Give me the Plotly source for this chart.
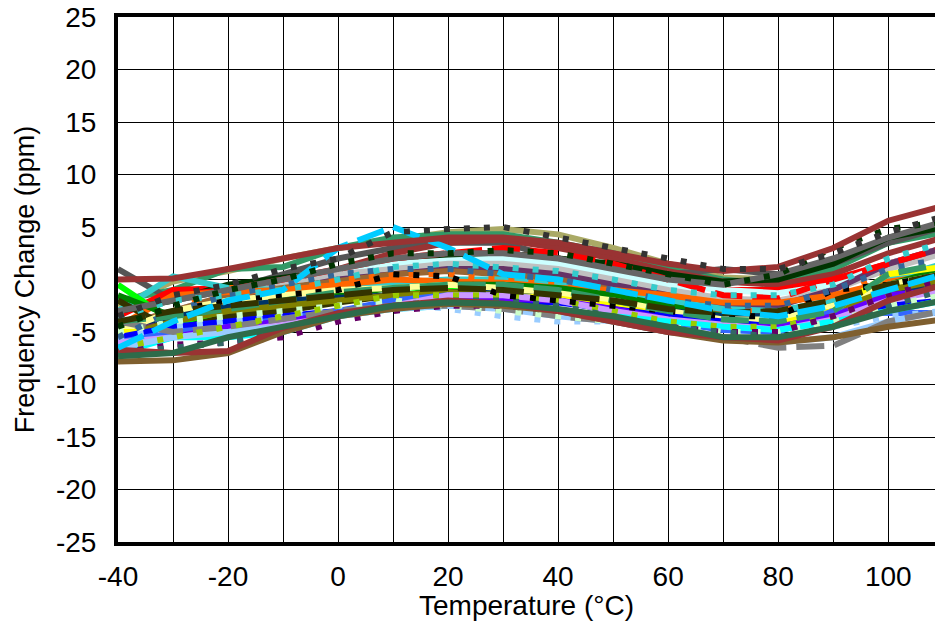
import plotly.graph_objects as go

temps = [-40, -30, -20, -10, 0, 10, 20, 30, 40, 50, 60, 70, 80, 90, 100, 110]

s01 = [0.0, 0.1, 1.0, 2.0, 3.0, 3.5, 4.0, 4.0, 3.5, 2.5, 1.5, 0.8, 1.2, 3.0, 5.6, 7.0]
s02 = [-2.5, -0.2, 0.8, 2.0, 3.0, 3.8, 4.5, 4.8, 4.3, 3.0, 1.5, 0.2, 0.0, 1.5, 3.5, 5.0]
s03 = [-3.5, -1.5, -0.5, 1.0, 2.0, 4.5, 4.8, 5.0, 4.0, 3.0, 2.0, 1.0, 1.0, 2.5, 4.5, 6.0]
s04 = [-2.0, -1.0, 1.0, 1.2, 3.0, 4.0, 4.3, 4.3, 3.5, 2.5, 1.0, 0.0, -0.5, 1.0, 3.5, 4.5]
s05 = [-6.5, -4.0, -2.0, -1.0, 3.0, 5.0, 3.0, 0.5, 0.0, -1.0, -2.0, -3.0, -3.5, -2.5, -1.0, 0.5]
s06 = [-4.5, -2.5, -1.0, 0.0, 1.5, 2.5, 2.5, 2.8, 2.5, 1.5, 0.5, -0.5, 0.5, 3.0, 4.8, 5.5]
s07 = [-5.5, -4.5, -3.0, -1.0, 1.0, 2.5, 3.5, 3.8, 3.0, 2.0, 0.8, -0.2, -0.5, 0.5, 2.5, 4.0]
s08 = [1.0, -2.0, -1.0, 0.5, 2.0, 3.0, 3.5, 3.5, 2.0, 1.0, 0.5, 1.0, 0.5, 1.5, 3.5, 5.0]
s09 = [-3.5, -1.0, -0.8, -0.3, 0.5, 1.5, 2.5, 2.5, 2.0, 1.0, 0.0, -1.0, -1.0, 0.0, 1.5, 3.0]
s10 = [-3.0, -2.0, -0.5, 0.2, 0.8, 1.5, 2.0, 2.5, 2.0, 1.5, 0.5, -0.2, 0.0, 1.5, 4.0, 5.0]
s11 = [-6.5, -4.0, -2.0, -0.5, 0.5, 1.5, 1.8, 2.0, 1.5, 0.5, -0.5, -1.0, -1.3, -0.5, 1.5, 3.0]
s12 = [-4.5, -3.0, -1.5, -0.5, 0.5, 1.0, 1.5, 1.5, 1.0, 0.0, -1.0, -1.8, -2.0, -1.0, 1.0, 2.5]
s13 = [-5.0, -3.5, -2.0, -1.0, 0.0, 0.5, 1.0, 1.0, 0.5, -0.5, -1.5, -2.5, -2.5, -1.0, 1.5, 3.0]
s14 = [-4.5, -3.0, -1.5, -0.8, -0.2, 0.5, 0.8, 0.5, 0.0, -1.0, -2.0, -3.0, -3.2, -2.5, -1.0, 0.5]
s15 = [-3.0, -1.5, -1.0, 0.0, 1.0, 2.0, 2.5, 3.0, 2.5, 1.5, 0.0, -1.5, -1.8, 0.0, 1.5, 3.0]
s16 = [-3.0, 0.3, -0.8, -1.0, -0.8, -0.3, 0.0, 0.0, -0.5, -1.2, -2.0, -2.8, -3.0, -2.0, 0.0, 1.5]
s17 = [-4.5, -1.5, -1.2, -1.0, -0.5, 0.0, -0.2, -0.3, -0.8, -1.0, -1.5, -2.2, -2.2, -1.5, -0.2, 0.5]
s18 = [-5.0, -3.0, -0.8, -0.8, 0.0, 0.5, 0.5, 0.0, -0.5, -1.5, -2.5, -3.0, -3.0, -1.5, 0.5, 1.5]
s19 = [-0.5, -4.0, -3.5, -2.5, -2.0, -1.5, -1.0, -0.8, -1.5, -2.5, -3.5, -4.0, -4.2, -3.0, -1.0, 0.5]
s20 = [-1.5, -3.5, -3.0, -2.2, -1.5, -0.8, -0.5, -0.5, -0.8, -1.5, -2.5, -3.5, -3.8, -2.5, -0.5, 1.0]
s21 = [-2.0, -4.8, -3.5, -3.0, -2.2, -1.5, -1.2, -1.3, -1.8, -2.5, -3.5, -4.2, -4.5, -3.5, -1.5, -0.5]
s22 = [-4.5, -3.5, -2.5, -2.0, -1.8, -1.5, -1.2, -1.3, -1.8, -2.3, -3.0, -3.5, -3.5, -2.8, -1.5, -0.5]
s23 = [-5.0, -3.0, -2.0, -1.5, -1.0, -0.8, -0.5, -0.8, -1.3, -2.0, -3.0, -3.8, -3.8, -2.5, -0.5, 0.5]
s24 = [-5.5, -4.0, -3.0, -2.5, -2.0, -1.5, -1.2, -1.5, -2.0, -3.0, -3.8, -4.5, -4.5, -3.0, -1.0, 0.0]
s25 = [-5.0, -5.0, -5.3, -4.5, -3.5, -2.5, -1.8, -1.5, -1.8, -2.5, -3.5, -4.5, -4.2, -3.0, 0.5, 1.2]
s26 = [-5.5, -4.5, -4.0, -3.5, -3.0, -2.5, -2.0, -2.0, -2.2, -2.8, -3.5, -4.0, -4.5, -3.8, -2.5, -2.0]
s27 = [-6.0, -5.0, -4.5, -3.8, -3.0, -2.0, -1.5, -1.5, -2.0, -3.0, -4.0, -4.8, -5.0, -3.0, -3.2, -3.2]
s28 = [-6.5, -5.5, -4.5, -4.0, -3.2, -2.5, -2.0, -1.8, -2.0, -2.8, -3.8, -4.5, -4.5, -3.5, -1.5, -1.0]
s29 = [-6.0, -5.5, -5.0, -4.3, -3.5, -2.5, -1.5, -1.5, -2.0, -3.0, -3.8, -4.3, -4.8, -3.8, -2.0, -1.0]
s30 = [-7.0, -5.5, -5.5, -5.0, -3.5, -2.8, -2.5, -2.5, -3.0, -3.5, -4.0, -4.5, -4.8, -4.0, -3.0, -2.0]
s31 = [-6.5, -5.5, -5.0, -4.5, -3.5, -2.8, -2.5, -2.8, -3.5, -4.0, -5.0, -5.5, -6.0, -5.5, -4.0, -3.0]
s32 = [-5.5, -4.5, -4.0, -3.5, -2.5, -2.2, -2.8, -3.5, -4.0, -4.0, -4.5, -5.0, -5.0, -4.5, -3.5, -3.0]
s33 = [-4.0, -5.0, -4.5, -3.8, -3.0, -2.5, -2.5, -2.8, -3.5, -4.0, -4.5, -5.5, -6.5, -6.3, -4.0, -3.0]
s34 = [-5.0, -4.0, -3.5, -3.0, -2.5, -2.0, -2.5, -3.0, -3.5, -4.0, -4.5, -5.0, -5.0, -4.0, -2.5, -1.5]
s35 = [-6.5, -5.5, -4.5, -3.5, -2.5, -1.5, -1.5, -1.5, -2.0, -3.0, -4.0, -4.5, -4.5, -3.5, -1.5, -0.5]
s36 = [-7.0, -6.2, -6.0, -5.5, -4.0, -3.0, -2.5, -2.5, -3.0, -3.8, -4.5, -5.0, -5.0, -3.5, -1.5, 0.0]
s37 = [-7.0, -6.5, -6.0, -5.0, -3.5, -2.5, -2.0, -2.0, -2.5, -3.5, -4.5, -5.0, -5.5, -4.5, -2.5, -1.0]
s38 = [-7.8, -7.7, -7.0, -5.0, -3.5, -2.8, -2.3, -2.5, -3.0, -4.0, -5.0, -5.8, -6.0, -5.5, -4.5, -3.8]
s39 = [-6.7, -7.0, -6.8, -4.6, -3.2, -2.5, -2.0, -2.3, -3.0, -4.0, -5.0, -5.5, -5.8, -4.5, -2.0, -0.5]
s40 = [-4.0, -3.0, -2.0, -1.5, -1.0, 0.5, 0.3, -1.5, -2.0, -2.5, -3.0, -3.5, -3.5, -1.0, -0.5, 0.5]
s41 = [-5.5, -3.0, -1.5, -0.5, 0.5, 1.0, 1.0, 0.5, 0.0, -1.0, -2.0, -2.5, -2.5, -1.0, 1.0, 2.0]
s42 = [-7.3, -7.0, -5.5, -4.5, -3.5, -2.5, -2.2, -2.3, -2.8, -3.5, -4.5, -5.5, -5.5, -4.5, -3.0, -2.0]
s43 = [-3.0, -2.0, -1.0, 0.0, 1.0, 2.0, 2.5, 2.5, 2.0, 1.0, 0.0, -0.5, 0.5, 2.0, 4.0, 5.5]
s44 = [-4.0, -3.5, -2.8, -2.0, -1.2, -0.8, -0.5, -0.5, -1.0, -2.0, -3.0, -3.8, -4.0, -3.0, 0.5, 1.5]
s45 = [-3.5, -2.0, -1.5, -1.0, 0.0, 1.2, 1.5, 1.2, 0.8, 0.0, -1.0, -1.5, -1.5, -0.5, 2.0, 3.5]
s46 = [-4.0, -3.0, -2.5, -2.0, -1.5, -1.0, -0.8, -1.0, -1.5, -2.0, -2.8, -3.2, -3.0, -2.0, -0.5, 0.5]

x_tick_labels = ["-40", "-20", "0", "20", "40", "60", "80", "100"]
y_tick_labels = ["-25", "-20", "-15", "-10", "-5", "0", "5", "10", "15", "20", "25"]

series = [
    ("#AAAA66", "solid", s02),
    ("#339966", "solid", s04),
    ("#555555", "solid", s08),
    ("#993333", "solid", s07),
    ("#FF0000", "solid", s09),
    ("#003300", "solid", s10),
    ("#CCFFFF", "solid", s11),
    ("#C0C0C0", "solid", s12),
    ("#663366", "solid", s13),
    ("#996633", "solid", s14),
    ("#FF0000", "28px,10px", s15),
    ("#33CCCC", "solid", s16),
    ("#FF6600", "solid", s17),
    ("#FF6600", "6px,14px", s18),
    ("#00FF00", "solid", s19),
    ("#008000", "solid", s20),
    ("#333300", "solid", s21),
    ("#003366", "solid", s22),
    ("#FFFF99", "solid", s23),
    ("#808000", "solid", s24),
    ("#FFFF00", "solid", s25),
    ("#0000FF", "solid", s26),
    ("#3366FF", "solid", s27),
    ("#6600FF", "solid", s28),
    ("#CC99FF", "solid", s29),
    ("#00FFFF", "solid", s30),
    ("#99CCFF", "solid", s31),
    ("#99CCFF", "6px,14px", s32),
    ("#808080", "28px,10px", s33),
    ("#CCFFCC", "6px,14px", s34),
    ("#99CC00", "6px,14px", s35),
    ("#660066", "6px,14px", s36),
    ("#336666", "6px,14px", s37),
    ("#7F5F2F", "solid", s38),
    ("#993333", "solid", s39),
    ("#000000", "6px,14px", s40),
    ("#336699", "6px,14px", s41),
    ("#2E6B4A", "solid", s42),
    ("#666666", "solid", s43),
    ("#339966", "28px,10px", s44),
    ("#33CCCC", "6px,14px", s45),
    ("#333300", "28px,10px", s46),
    ("#00CCFF", "28px,10px", s05),
    ("#003300", "6px,14px", s06),
    ("#993333", "solid", s01),
    ("#333333", "6px,14px", s03),
]

fig = go.Figure()
for color, dash, vals in series:
    fig.add_trace(go.Scatter(
        x=temps, y=vals, mode="lines",
        line=dict(color=color, width=6, dash=dash),
        showlegend=False, hoverinfo="skip",
    ))

font_family = "Liberation Sans, Arial, sans-serif"

fig.update_layout(
    width=935, height=621,
    margin=dict(l=118, r=0, t=17, b=79),
    paper_bgcolor="white", plot_bgcolor="white",
    font=dict(family=font_family, color="black", size=28),
    xaxis=dict(
        range=[-40, 108.5], tickmode="array",
        tickvals=[-40, -20, 0, 20, 40, 60, 80, 100],
        ticktext=x_tick_labels,
        showgrid=True, gridcolor="black", gridwidth=1,
        minor=dict(dtick=10, tick0=0, showgrid=True, gridcolor="black", gridwidth=1),
        showline=True, linecolor="black", linewidth=4, mirror=True,
        ticks="", ticklabelstandoff=6, ticklabeloverflow="allow",
        tickfont=dict(size=28),
        title=dict(text="Temperature (°C)", font=dict(size=28), standoff=0),
        zeroline=False, automargin=False,
    ),
    yaxis=dict(
        range=[-25, 25], tickmode="array",
        tickvals=[-25, -20, -15, -10, -5, 0, 5, 10, 15, 20, 25],
        ticktext=y_tick_labels,
        showgrid=True, gridcolor="black", gridwidth=1,
        showline=True, linecolor="black", linewidth=4, mirror=False,
        ticks="", ticklabelstandoff=12, ticklabeloverflow="allow",
        tickfont=dict(size=28),
        title=dict(text="Frequency Change (ppm)", font=dict(size=27), standoff=14),
        zeroline=False, automargin=False,
    ),
)

fig.write_html(
    "out.html",
    config={"displayModeBar": False, "staticPlot": True},
    post_script="document.body.style.margin='0'; document.body.style.overflow='hidden';",
)
